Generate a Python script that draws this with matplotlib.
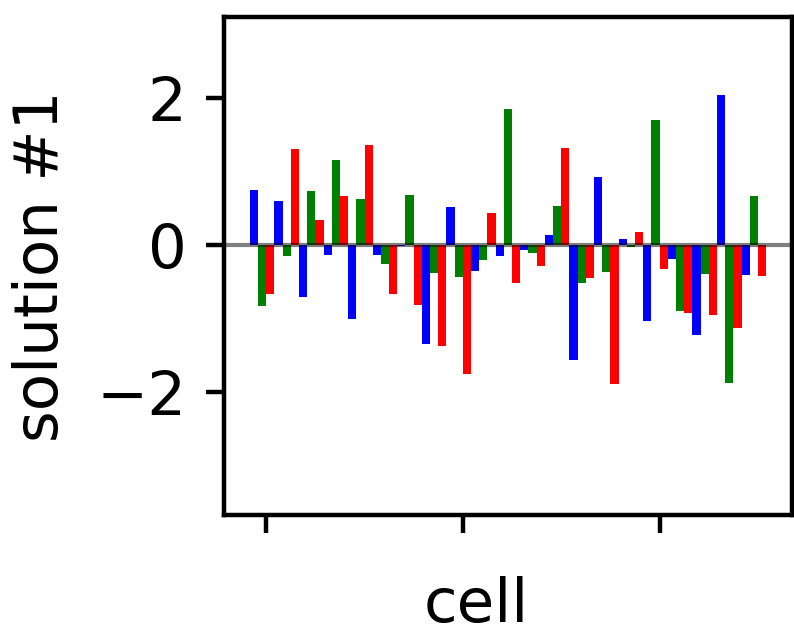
import numpy as np
import matplotlib
matplotlib.use("Agg")
import matplotlib.pyplot as plt

# solution #1 values per cell, three components
comp_blue = [0.75, 0.60, -0.70, -0.13, -1.00, -0.13, -0.01, -1.35, 0.52, -0.35,
             -0.145, -0.064, 0.14, -1.56, 0.93, 0.08, -1.03, -0.19, -1.22, 2.05, -0.40]
comp_green = [-0.83, -0.145, 0.74, 1.16, 0.63, -0.25, 0.68, -0.38, -0.43, -0.20,
              1.85, -0.10, 0.53, -0.51, -0.36, -0.03, 1.70, -0.90, -0.39, -1.88, 0.67]
comp_red = [-0.66, 1.31, 0.34, 0.67, 1.36, -0.66, -0.81, -1.37, -1.75, 0.44,
            -0.51, -0.28, 1.32, -0.45, -1.89, 0.18, -0.32, -0.92, -0.95, -1.13, -0.42]
xtick_cells = [0, 8, 16]

cells = np.arange(len(comp_blue))
w = 1.0 / 3

fig = plt.figure(figsize=(7.94, 6.32), dpi=100)
ax = fig.add_axes([0.282, 0.185, 0.7155, 0.788])

ax.bar(cells - 2 * w, comp_blue, width=w, align='edge', color='b')
ax.bar(cells - w, comp_green, width=w, align='edge', color='g')
ax.bar(cells, comp_red, width=w, align='edge', color='r')
ax.axhline(0, color='k', alpha=0.5, lw=3)

ax.set_ylim(-3.68, 3.11)
ax.set_yticks([-2, 0, 2])
ax.set_xticks(xtick_cells)
ax.set_xticklabels([])

for s in ax.spines.values():
    s.set_linewidth(3.2)
ax.tick_params(axis='both', length=13, width=3.2, labelsize=44, pad=14)

ax.set_xlabel('cell', fontsize=44)
ax.xaxis.set_label_coords(0.444, -0.122)
ax.set_ylabel('solution #1', fontsize=44)
ax.yaxis.set_label_coords(-0.27, 0.5)

fig.savefig('out.png', dpi=100)
